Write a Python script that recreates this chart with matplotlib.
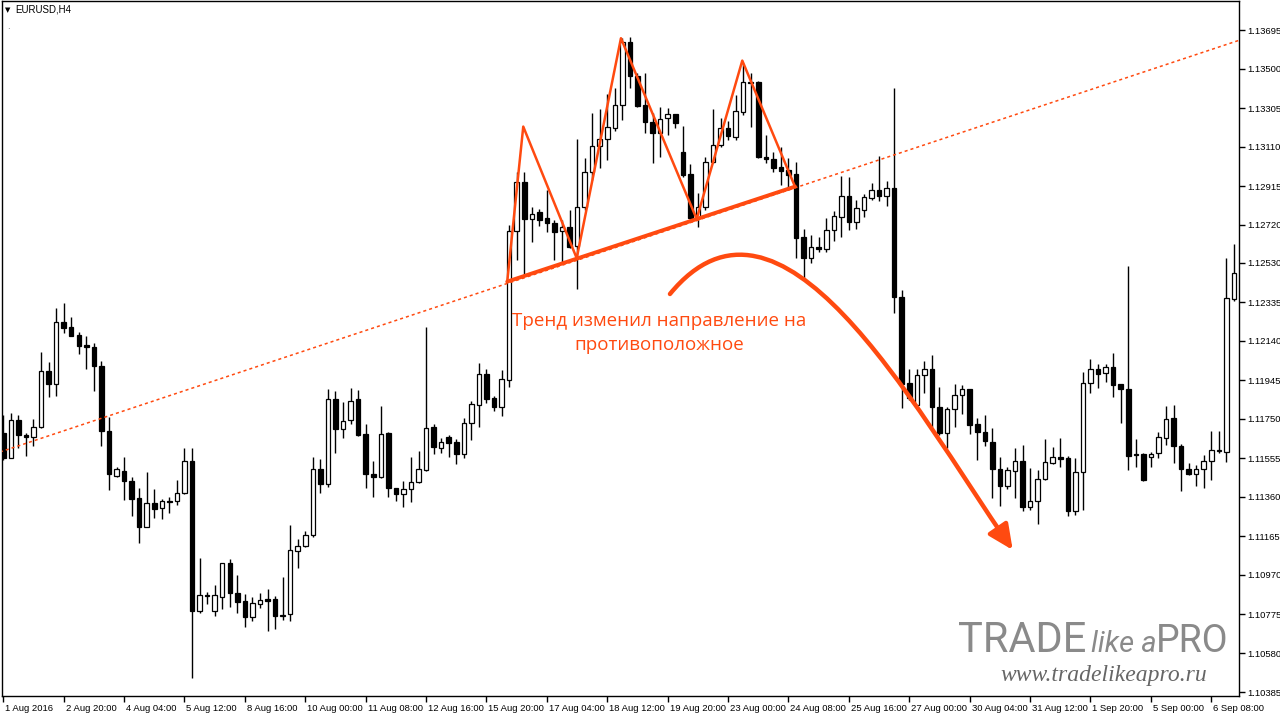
#!/usr/bin/env python3
# -*- coding: utf-8 -*-

import matplotlib
matplotlib.use("Agg")
import matplotlib.pyplot as plt
import matplotlib.transforms as mtransforms
from matplotlib.patches import Rectangle, FancyArrowPatch
from matplotlib.path import Path

# EURUSD H4, one row per bar
opens = [
    1.11680, 1.11555, 1.11745, 1.11670, 1.11660, 1.11710, 1.11990, 1.11925, 1.12235, 1.12210,
    1.12170, 1.12120, 1.12110, 1.12015, 1.11690, 1.11465, 1.11490, 1.11440, 1.11355, 1.11210,
    1.11330, 1.11305, 1.11340, 1.11340, 1.11380, 1.11540, 1.10790, 1.10870, 1.10790, 1.10860,
    1.11030, 1.10880, 1.10840, 1.10760, 1.10825, 1.10850, 1.10850, 1.10765, 1.10775, 1.11090,
    1.11115, 1.11170, 1.11500, 1.11425, 1.11850, 1.11700, 1.11745, 1.11850, 1.11675, 1.11475,
    1.11460, 1.11680, 1.11405, 1.11375, 1.11400, 1.11435, 1.11495, 1.11710, 1.11605, 1.11660,
    1.11635, 1.11575, 1.11730, 1.11820, 1.11975, 1.11855, 1.11810, 1.11945, 1.12690, 1.12935,
    1.12750, 1.12785, 1.12755, 1.12730, 1.12690, 1.12710, 1.12615, 1.12810, 1.12985, 1.13115,
    1.13150, 1.13205, 1.13320, 1.13635, 1.13465, 1.13320, 1.13235, 1.13180, 1.13255, 1.13275,
    1.13085, 1.12975, 1.12755, 1.12810, 1.13035, 1.13120, 1.13205, 1.13160, 1.13285, 1.13435,
    1.13435, 1.13060, 1.13050, 1.13010, 1.12995, 1.12975, 1.12660, 1.12555, 1.12610, 1.12600,
    1.12695, 1.12760, 1.12865, 1.12735, 1.12795, 1.12855, 1.12895, 1.12865, 1.12905, 1.12360,
    1.11930, 1.11820, 1.11970, 1.12000, 1.11810, 1.11680, 1.11800, 1.11870, 1.11900, 1.11725,
    1.11685, 1.11635, 1.11500, 1.11415, 1.11490, 1.11540, 1.11310, 1.11340, 1.11450, 1.11530,
    1.11560, 1.11555, 1.11290, 1.11485, 1.11930, 1.12000, 1.11980, 1.12010, 1.11925, 1.11900,
    1.11575, 1.11575, 1.11560, 1.11580, 1.11655, 1.11755, 1.11615, 1.11500, 1.11475, 1.11500,
    1.11540, 1.11590, 1.11585, 1.12350,
]
highs = [
    1.11770, 1.11780, 1.11770, 1.11680, 1.11750, 1.12085, 1.12035, 1.12305, 1.12330, 1.12260,
    1.12185, 1.12165, 1.12130, 1.12040, 1.11760, 1.11510, 1.11560, 1.11460, 1.11405, 1.11485,
    1.11400, 1.11350, 1.11360, 1.11445, 1.11605, 1.11605, 1.11055, 1.10885, 1.10920, 1.11030,
    1.11050, 1.10970, 1.10875, 1.10860, 1.10880, 1.10900, 1.10865, 1.10960, 1.11220, 1.11150,
    1.11190, 1.11560, 1.11550, 1.11900, 1.11890, 1.11835, 1.11905, 1.11895, 1.11725, 1.11540,
    1.11815, 1.11685, 1.11405, 1.11440, 1.11560, 1.11590, 1.12210, 1.11725, 1.11655, 1.11670,
    1.11650, 1.11755, 1.11840, 1.12030, 1.12000, 1.11865, 1.11995, 1.12720, 1.12985, 1.12985,
    1.12810, 1.12800, 1.12895, 1.12745, 1.12745, 1.12795, 1.13150, 1.13055, 1.13280, 1.13300,
    1.13375, 1.13405, 1.13655, 1.13660, 1.13480, 1.13480, 1.13280, 1.13310, 1.13305, 1.13275,
    1.13215, 1.13025, 1.12880, 1.13060, 1.13300, 1.13255, 1.13240, 1.13370, 1.13530, 1.13480,
    1.13440, 1.13170, 1.13085, 1.13110, 1.13055, 1.13035, 1.12700, 1.12670, 1.12660, 1.12755,
    1.12790, 1.12965, 1.12960, 1.12845, 1.12875, 1.12930, 1.13065, 1.12940, 1.13405, 1.12395,
    1.12000, 1.12000, 1.12040, 1.12070, 1.11910, 1.11810, 1.11925, 1.11920, 1.11900, 1.11755,
    1.11770, 1.11705, 1.11560, 1.11510, 1.11605, 1.11620, 1.11505, 1.11495, 1.11650, 1.11610,
    1.11655, 1.11565, 1.11555, 1.11985, 1.12050, 1.12025, 1.12025, 1.12080, 1.11925, 1.12515,
    1.11650, 1.11580, 1.11585, 1.11685, 1.11815, 1.11820, 1.11625, 1.11530, 1.11520, 1.11570,
    1.11690, 1.11690, 1.12555, 1.12625,
]
lows = [
    1.11545, 1.11555, 1.11605, 1.11565, 1.11615, 1.11705, 1.11860, 1.11865, 1.12180, 1.12165,
    1.12075, 1.12000, 1.11890, 1.11615, 1.11395, 1.11460, 1.11345, 1.11265, 1.11130, 1.11210,
    1.11255, 1.11250, 1.11280, 1.11320, 1.11375, 1.10455, 1.10780, 1.10825, 1.10765, 1.10800,
    1.10810, 1.10780, 1.10710, 1.10740, 1.10805, 1.10690, 1.10700, 1.10745, 1.10740, 1.11005,
    1.11110, 1.11160, 1.11380, 1.11410, 1.11580, 1.11655, 1.11725, 1.11665, 1.11405, 1.11360,
    1.11455, 1.11360, 1.11340, 1.11310, 1.11335, 1.11430, 1.11490, 1.11575, 1.11580, 1.11560,
    1.11525, 1.11555, 1.11645, 1.11710, 1.11830, 1.11790, 1.11765, 1.11910, 1.12545, 1.12465,
    1.12635, 1.12715, 1.12685, 1.12545, 1.12535, 1.12605, 1.12400, 1.12795, 1.12945, 1.13005,
    1.13045, 1.13190, 1.13245, 1.13405, 1.13310, 1.13180, 1.13030, 1.13060, 1.13170, 1.13205,
    1.12960, 1.12745, 1.12710, 1.12795, 1.13030, 1.13110, 1.13145, 1.13145, 1.13270, 1.13210,
    1.13055, 1.13030, 1.12985, 1.12920, 1.12895, 1.12555, 1.12445, 1.12530, 1.12585, 1.12585,
    1.12640, 1.12660, 1.12695, 1.12700, 1.12760, 1.12845, 1.12840, 1.12815, 1.12280, 1.11805,
    1.11845, 1.11815, 1.11880, 1.11710, 1.11670, 1.11605, 1.11710, 1.11775, 1.11675, 1.11545,
    1.11615, 1.11355, 1.11315, 1.11400, 1.11355, 1.11290, 1.11295, 1.11225, 1.11445, 1.11525,
    1.11510, 1.11265, 1.11270, 1.11295, 1.11880, 1.11905, 1.11935, 1.11860, 1.11730, 1.11495,
    1.11510, 1.11440, 1.11510, 1.11555, 1.11620, 1.11530, 1.11390, 1.11470, 1.11415, 1.11405,
    1.11445, 1.11580, 1.11535, 1.12340,
]
closes = [
    1.11555, 1.11745, 1.11670, 1.11660, 1.11710, 1.11990, 1.11925, 1.12235, 1.12205, 1.12165,
    1.12115, 1.12110, 1.12015, 1.11690, 1.11475, 1.11500, 1.11440, 1.11350, 1.11210, 1.11330,
    1.11300, 1.11340, 1.11335, 1.11380, 1.11540, 1.10790, 1.10870, 1.10865, 1.10870, 1.11030,
    1.10880, 1.10835, 1.10760, 1.10830, 1.10845, 1.10840, 1.10765, 1.10770, 1.11095, 1.11115,
    1.11170, 1.11500, 1.11425, 1.11850, 1.11700, 1.11740, 1.11840, 1.11670, 1.11475, 1.11460,
    1.11675, 1.11405, 1.11375, 1.11400, 1.11435, 1.11500, 1.11705, 1.11610, 1.11635, 1.11630,
    1.11575, 1.11730, 1.11825, 1.11975, 1.11850, 1.11810, 1.11950, 1.12690, 1.12935, 1.12750,
    1.12775, 1.12745, 1.12730, 1.12685, 1.12710, 1.12610, 1.12810, 1.12985, 1.13115, 1.13150,
    1.13210, 1.13320, 1.13635, 1.13465, 1.13315, 1.13235, 1.13180, 1.13250, 1.13275, 1.13230,
    1.12970, 1.12755, 1.12810, 1.13035, 1.13120, 1.13205, 1.13165, 1.13290, 1.13435, 1.13430,
    1.13060, 1.13050, 1.13005, 1.12990, 1.12970, 1.12655, 1.12555, 1.12610, 1.12600, 1.12695,
    1.12765, 1.12865, 1.12735, 1.12805, 1.12860, 1.12895, 1.12865, 1.12905, 1.12360, 1.11925,
    1.11855, 1.11970, 1.12000, 1.11810, 1.11680, 1.11800, 1.11870, 1.11900, 1.11720, 1.11685,
    1.11640, 1.11500, 1.11415, 1.11495, 1.11540, 1.11310, 1.11340, 1.11450, 1.11535, 1.11560,
    1.11550, 1.11290, 1.11485, 1.11930, 1.12000, 1.11975, 1.12010, 1.11920, 1.11900, 1.11565,
    1.11570, 1.11445, 1.11575, 1.11660, 1.11750, 1.11615, 1.11500, 1.11475, 1.11500, 1.11540,
    1.11595, 1.11595, 1.12355, 1.12480,
]

date_labels = ["1 Aug 2016", "2 Aug 20:00", "4 Aug 04:00", "5 Aug 12:00", "8 Aug 16:00",
               "10 Aug 00:00", "11 Aug 08:00", "12 Aug 16:00", "15 Aug 20:00", "17 Aug 04:00",
               "18 Aug 12:00", "19 Aug 20:00", "23 Aug 00:00", "24 Aug 08:00", "25 Aug 16:00",
               "27 Aug 00:00", "30 Aug 04:00", "31 Aug 12:00", "1 Sep 20:00", "5 Sep 00:00",
               "6 Sep 08:00"]
price_ticks = [1.13695, 1.13500, 1.13305, 1.13110, 1.12915, 1.12720, 1.12530, 1.12335, 1.12140,
               1.11945, 1.11750, 1.11555, 1.11360, 1.11165, 1.10970, 1.10775, 1.10580, 1.10385]

# drawings on the chart (bar index, price)
trend_bars = [-0.44, 163.8]
trend_prices = [1.11585, 1.13645]
neck_bars = [66.75, 104.86]
neck_prices = [1.12437, 1.12912]
zig_bars = [66.75, 68.87, 75.95, 81.81, 91.84, 97.88, 104.86]
zig_prices = [1.12437, 1.13212, 1.12554, 1.13654, 1.12750, 1.13542, 1.12912]
arc_bars = [88.3, 102.87, 120.09, 133.7]
arc_prices = [1.12375, 1.13045, 1.11845, 1.11095]

ORANGE = "#ff4a10"
AXFONT = "Liberation Sans"

fig = plt.figure(figsize=(12.8, 7.2), dpi=100)
ax = fig.add_axes([2 / 1280, 24 / 720, 1237 / 1280, 695 / 720])
ax.set_xlim(-0.17, 163.67)
ax.set_ylim(1.10365, 1.13840)

width = 0.6
for i in range(len(opens)):
    o, h, l, c = opens[i], highs[i], lows[i], closes[i]
    ax.plot([i, i], [l, h], color="black", lw=1, zorder=2, solid_capstyle="butt")
    bull = c >= o
    ax.add_patch(Rectangle((i - width / 2, min(o, c)), width, abs(c - o),
                           facecolor="white" if bull else "black",
                           edgecolor="black", lw=0.9, zorder=3))

# dotted trend line
ax.plot(trend_bars, trend_prices, color=ORANGE, lw=1.1, ls=(0, (2, 2)), zorder=4)
# head & shoulders + neckline
ax.plot(zig_bars, zig_prices, color=ORANGE, lw=1.8, zorder=5)
ax.plot(neck_bars, neck_prices, color=ORANGE, lw=2.8, zorder=5, solid_capstyle="round")

arc = Path(list(zip(arc_bars, arc_prices)),
           [Path.MOVETO, Path.CURVE4, Path.CURVE4, Path.CURVE4])
ax.add_patch(FancyArrowPatch(path=arc, arrowstyle="-|>,head_length=0.75,head_width=0.35",
                             mutation_scale=20, color=ORANGE, lw=3.2, zorder=6,
                             shrinkA=0, shrinkB=0, transform=ax.transData))

ax.text(86.9, 1.12180, "Тренд изменил направление на\nпротивоположное",
        color=ORANGE, fontsize=13.5, family="Open Sans", ha="center", va="center",
        multialignment="center", linespacing=1.45, zorder=7)

# axes
for s in ax.spines.values():
    s.set_color("black")
    s.set_linewidth(1)
ax.yaxis.tick_right()
ax.set_yticks(price_ticks)
ax.set_yticklabels(["%.5f" % p for p in price_ticks], family=AXFONT)
ax.set_xticks(range(0, 8 * len(date_labels), 8))
ax.set_xticklabels(date_labels, family=AXFONT)
ax.tick_params(axis="both", direction="out", length=4, width=1, labelsize=6.8, pad=2)
offset = mtransforms.ScaledTranslation(2 / 100, 0, fig.dpi_scale_trans)
for lbl in ax.get_xticklabels():
    lbl.set_ha("left")
    lbl.set_transform(lbl.get_transform() + offset)

fig.text(5 / 1280, 1 - 10 / 720, "▼", fontsize=5, va="center", ha="left")
fig.text(15 / 1280, 1 - 10 / 720, "EURUSD,H4", fontsize=7, va="center", ha="left",
         family=AXFONT)
fig.text(7 / 1280, 1 - 30 / 720, "·", fontsize=6, va="center", color="#555555")

# watermark
fig.text(958 / 1280, 1 - 652 / 720, "TRADE", fontsize=30, color="#8a8a8a",
         family="Roboto", va="baseline")
fig.text(1091 / 1280, 1 - 652 / 720, "like a", fontsize=21, color="#8a8a8a",
         family="Roboto", style="italic", va="baseline")
fig.text(1228 / 1280, 1 - 652 / 720, "PRO", fontsize=27, color="#8a8a8a",
         family="Roboto", va="baseline", ha="right")
fig.text(1000 / 1280, 1 - 681 / 720, "www.tradelikeapro.ru", fontsize=17, color="#666666",
         family="Liberation Serif", style="italic", va="baseline")

fig.savefig("out.png", dpi=100)
